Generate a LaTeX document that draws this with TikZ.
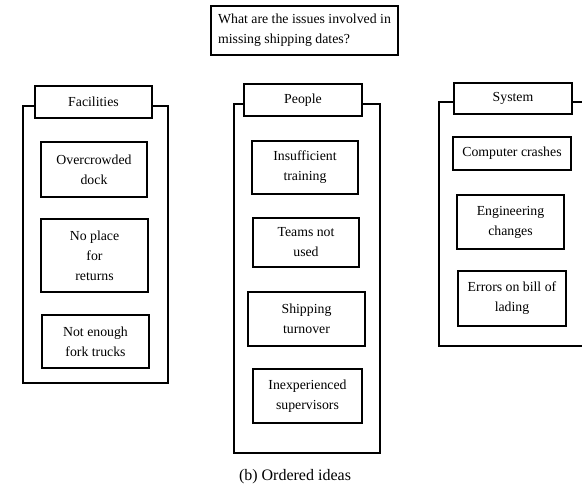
\documentclass[tikz,border=0pt]{standalone}
\usepackage{fontspec}
\setmainfont{Liberation Serif}
\begin{document}
\begin{tikzpicture}[x=1pt,y=-1pt,
  lbl/.style={font=\fontsize{13.8}{20}\selectfont},
  card/.style={draw, line width=1.1pt, fill=white, align=center, inner sep=0pt, lbl},
  group/.style={draw, line width=1.1pt, inner sep=0pt},
  heading/.style={card}]
\useasboundingbox (0,0) rectangle (582,490);

% question
\node[draw, line width=1.1pt, lbl, align=left, inner sep=0pt,
      minimum width=187pt, minimum height=49pt] (q) at (304.5,30.5)
  {What are the issues involved in\\missing shipping dates?};

% Facilities
\node[group, minimum width=145pt, minimum height=277pt] (gF) at (95.5,244.5) {};
\node[heading, minimum width=117pt, minimum height=32pt] (hF) at (93.5,102) {Facilities};
\node[card, minimum width=106pt, minimum height=55pt] (f1) at (94,169.5) {Overcrowded\\dock};
\node[card, minimum width=107pt, minimum height=73pt] (f2) at (94.5,255.5) {No place\\for\\returns};
\node[card, minimum width=107pt, minimum height=53pt] (f3) at (95.5,341.5) {Not enough\\fork trucks};

% People
\node[group, minimum width=146pt, minimum height=349pt] (gP) at (307,278.5) {};
\node[heading, minimum width=118pt, minimum height=32pt] (hP) at (303,100) {People};
\node[card, minimum width=106pt, minimum height=53pt] (p1) at (305,167.5) {Insufficient\\training};
\node[card, minimum width=106pt, minimum height=49pt] (p2) at (306,242.5) {Teams not\\used};
\node[card, minimum width=117pt, minimum height=54pt] (p3) at (306.5,319) {Shipping\\turnover};
\node[card, minimum width=109pt, minimum height=54pt] (p4) at (307.5,396) {Inexperienced\\supervisors};

% System
\node[group, minimum width=151pt, minimum height=244pt] (gS) at (514.5,224) {};
\node[heading, minimum width=118pt, minimum height=31pt] (hS) at (513,98.5) {System};
\node[card, minimum width=118pt, minimum height=33pt] (s1) at (512,153.5) {Computer crashes};
\node[card, minimum width=107pt, minimum height=54pt] (s2) at (510.5,222) {Engineering\\changes};
\node[card, minimum width=108pt, minimum height=55pt] (s3) at (512,298.5) {Errors on bill of\\lading};

% caption
\node[font=\fontsize{16}{19}\selectfont] (cap) at (295,477) {(b) Ordered ideas};
\end{tikzpicture}
\end{document}
